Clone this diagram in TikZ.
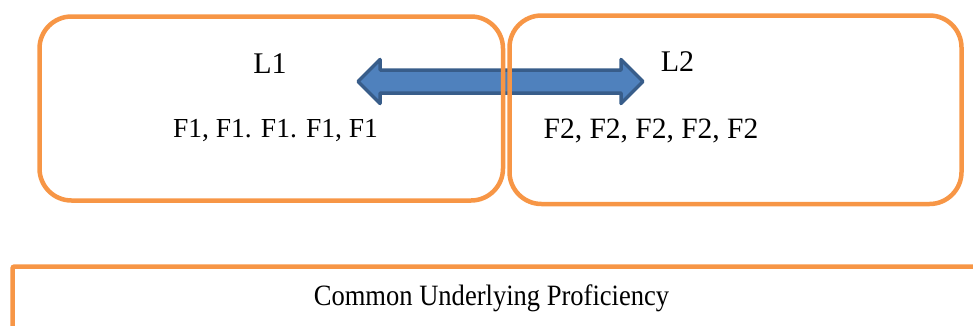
\documentclass[tikz,border=0pt]{standalone}
\usepackage{fontspec}
\setmainfont{Liberation Serif}
\definecolor{boxorange}{HTML}{F79646}
\definecolor{arrowfill}{HTML}{4F81BD}
\definecolor{arrowline}{HTML}{385D8A}
\begin{document}
\begin{tikzpicture}[x=1pt,y=-1pt,
  langbox/.style={draw=boxorange,line width=4.5pt,rounded corners=32pt},
  label/.style={inner sep=0pt,anchor=base}]
\useasboundingbox (0,0) rectangle (973,325);

% two-headed arrow between the languages
\draw[arrowline,fill=arrowfill,line width=3.5pt,line join=round]
  (358,81.5) -- (380,59.5) -- (380,70) -- (621,70) -- (621,59.5)
  -- (643,81.5) -- (621,103.5) -- (621,93) -- (380,93) -- (380,103.5) -- cycle;

% language boxes
\node[langbox,minimum width=463.5pt,minimum height=184pt,inner sep=0pt] (l1box) at (271.25,108.5) {};
\node[langbox,minimum width=452pt,minimum height=188.5pt,inner sep=0pt] (l2box) at (735.5,109.75) {};

% open frame of the common base
\draw[boxorange,line width=4.5pt,rounded corners=2pt] (12.5,330) -- (12.5,266.5) -- (980,266.5);

% texts
\node[label,font=\fontsize{30}{34}\selectfont] (l1) at (270,73.5) {L1};
\node[label,font=\fontsize{30}{34}\selectfont] (l2) at (677.5,71.5) {L2};
\node[label,font=\fontsize{27.5}{32}\selectfont] (f1) at (275.5,137) {F1, F1. F1. F1, F1};
\node[label,font=\fontsize{29.5}{32}\selectfont] (f2) at (651,138) {F2, F2, F2, F2, F2};
\node[label,font=\fontsize{29.5}{32}\selectfont,xscale=0.9] (cup) at (491.5,305) {Common Underlying Proficiency};
\end{tikzpicture}
\end{document}
